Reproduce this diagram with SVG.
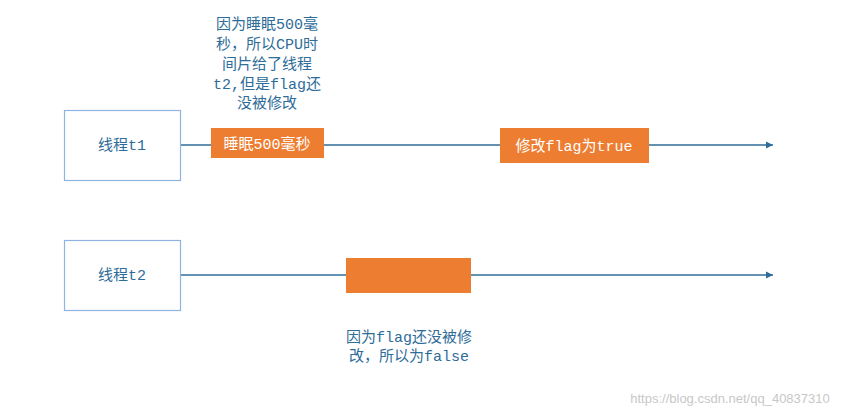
<svg xmlns="http://www.w3.org/2000/svg" width="861" height="416" viewBox="0 0 861 416">
<style>
.box{fill:#fff;stroke:#8fb4e3;stroke-width:1.2}
.or{fill:#ed7d31}
.t{font-family:"Liberation Mono","Noto Sans CJK SC",monospace;font-size:15px;text-anchor:middle}
.b{fill:#2e6c99}
.w{fill:#fff}
.ln{stroke:#2e6c99;stroke-width:1.3;fill:none;marker-end:url(#a)}
</style>
<defs><marker id="a" markerWidth="8" markerHeight="8" refX="7" refY="4" orient="auto" markerUnits="userSpaceOnUse"><path d="M0,0.5 L7,4 L0,7.5 Z" fill="#2e6c99"/></marker></defs>
<g id="connectors">
<path class="ln" d="M181,145 H773"/>
<path class="ln" d="M181,275 H773"/>
</g>
<g id="t1"><rect class="box" x="64.5" y="110.5" width="116" height="70"/><text class="t b" x="122" y="150">线程t1</text></g>
<g id="t2"><rect class="box" x="64.5" y="240.5" width="116" height="70"/><text class="t b" x="122" y="280">线程t2</text></g>
<g id="sleep"><rect class="or" x="211" y="128" width="113" height="30"/><text class="t w" x="267" y="149">睡眠500毫秒</text></g>
<g id="modify"><rect class="or" x="500" y="128" width="149" height="35"/><text class="t w" x="574" y="151">修改flag为true</text></g>
<g id="t2block"><rect class="or" x="346" y="258" width="125" height="35"/></g>
<g id="note1" class="t b">
<text x="267" y="29">因为睡眠500毫</text>
<text x="267" y="49">秒，所以CPU时</text>
<text x="267" y="69">间片给了线程</text>
<text x="267" y="89">t2,但是flag还</text>
<text x="267" y="108">没被修改</text>
</g>
<g id="note2" class="t b">
<text x="409" y="342">因为flag还没被修</text>
<text x="409" y="361">改，所以为false</text>
</g>
<text x="730" y="403" style="font-family:'Liberation Sans',sans-serif;font-size:13px;fill:#c8c8c8;text-anchor:middle">https://blog.csdn.net/qq_40837310</text>
</svg>
